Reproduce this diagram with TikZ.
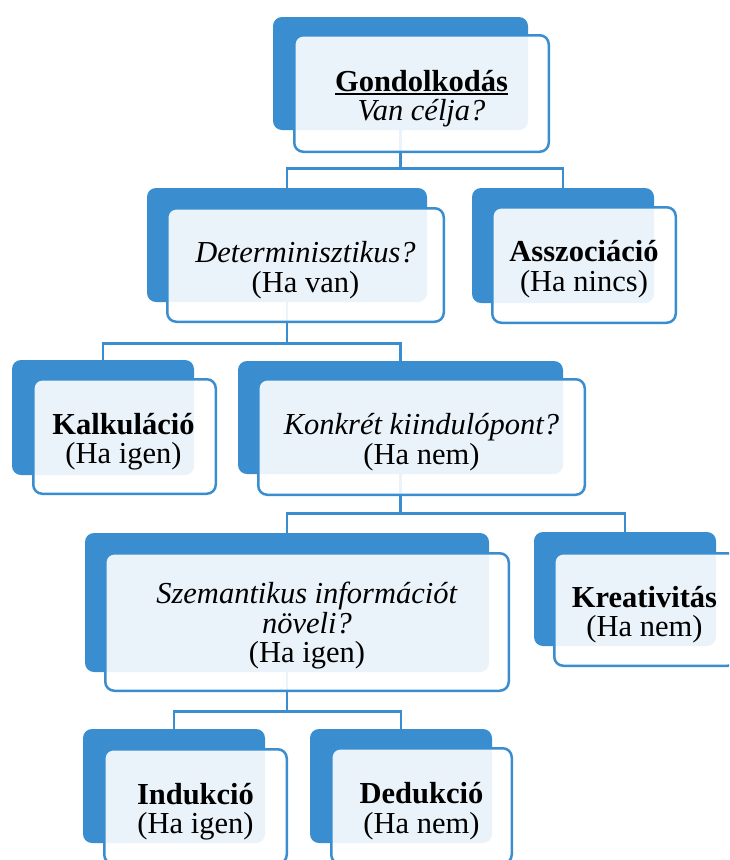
\documentclass[tikz,border=0pt]{standalone}
\usepackage{fontspec}
\setmainfont{Liberation Serif}
\definecolor{sblue}{HTML}{3A8ECF}
\newcommand\ulbf[1]{\setbox0\hbox{\textbf{#1}}\rlap{\rule[-3.5pt]{\wd0}{1.8pt}}\box0}
\tikzset{
  back/.style={rectangle, rounded corners=9pt, fill=sblue, inner sep=0pt},
  front/.style={rectangle, rounded corners=9pt, draw=sblue, line width=2.5pt,
    fill=white, fill opacity=0.9, inner sep=0pt},
  txt/.style={inner sep=0pt, align=center, font=\fontsize{30.5}{29.5}\selectfont},
  conn/.style={draw=sblue, line width=2.6pt},
}
\begin{document}
\begin{tikzpicture}[x=1pt,y=-1pt]
\clip (0,0) rectangle (729,860);
\fill[white] (0,0) rectangle (729,860);
% back cards
\node[back, minimum width=255pt, minimum height=113pt] (n1b) at (400.5,73.5) {};
\node[back, minimum width=280pt, minimum height=114pt] (n2b) at (287,245) {};
\node[back, minimum width=182pt, minimum height=115pt] (n3b) at (563,245.5) {};
\node[back, minimum width=182pt, minimum height=115pt] (n4b) at (103,417.5) {};
\node[back, minimum width=325pt, minimum height=113pt] (n5b) at (400.5,417.5) {};
\node[back, minimum width=404pt, minimum height=139pt] (n6b) at (287,602.5) {};
\node[back, minimum width=182pt, minimum height=114pt] (n7b) at (625,589) {};
\node[back, minimum width=182pt, minimum height=114pt] (n8b) at (174,786) {};
\node[back, minimum width=182pt, minimum height=114pt] (n9b) at (401,786) {};
% connectors
\draw[conn] (n1b.south) -- ++(0,38) -| (n2b.north);
\draw[conn] (n1b.south) ++(0,38) -| (n3b.north);
\draw[conn] (n2b.south) -- ++(0,41) -| (n4b.north);
\draw[conn] (n2b.south) ++(0,41) -| (n5b.north);
\draw[conn] (n5b.south) -- ++(0,39) -| (n6b.north);
\draw[conn] (n5b.south) ++(0,39) -| (n7b.north);
\draw[conn] (n6b.south) -- ++(0,39) -| (n8b.north);
\draw[conn] (n6b.south) ++(0,39) -| (n9b.north);
% front cards
\node[front, minimum width=254.5pt, minimum height=116.5pt] (n1) at (421.5,93.5) {};
\node[front, minimum width=276.5pt, minimum height=113.5pt] (n2) at (305.5,265) {};
\node[front, minimum width=183.5pt, minimum height=115.5pt] (n3) at (584,265) {};
\node[front, minimum width=182.5pt, minimum height=114.5pt] (n4) at (124.5,436.5) {};
\node[front, minimum width=326.5pt, minimum height=115.5pt] (n5) at (421.5,437) {};
\node[front, minimum width=403.5pt, minimum height=137.5pt] (n6) at (307,622) {};
\node[front, minimum width=182.5pt, minimum height=112.5pt] (n7) at (645.5,609.5) {};
\node[front, minimum width=182.5pt, minimum height=114.5pt] (n8) at (195.5,806.5) {};
\node[front, minimum width=180.5pt, minimum height=115.5pt] (n9) at (421.5,806) {};
% texts
\node[txt] (t1) at ([yshift=-5pt]n1.center) {\ulbf{Gondolkodás}\\\textit{Van célja?}};
\node[txt] (t2) at ([yshift=-5pt]n2.center) {\textit{Determinisztikus?}\\(Ha van)};
\node[txt] (t3) at ([yshift=-4pt]n3.center) {\textbf{Asszociáció}\\(Ha nincs)};
\node[txt] (t4) at ([xshift=-1pt,yshift=-5pt]n4.center) {\textbf{Kalkuláció}\\(Ha igen)};
\node[txt] (t5) at ([yshift=-5pt]n5.center) {\textit{Konkrét kiindulópont?}\\(Ha nem)};
\node[txt] (t6) at ([yshift=-4pt]n6.center) {\textit{Szemantikus információt}\\\textit{növeli?}\\(Ha igen)};
\node[txt] (t7) at ([xshift=-1pt,yshift=-5pt]n7.center) {\textbf{Kreativitás}\\(Ha nem)};
\node[txt] (t8) at ([yshift=-5pt]n8.center) {\textbf{Indukció}\\(Ha igen)};
\node[txt] (t9) at ([yshift=-5pt]n9.center) {\textbf{Dedukció}\\(Ha nem)};
\end{tikzpicture}
\end{document}
